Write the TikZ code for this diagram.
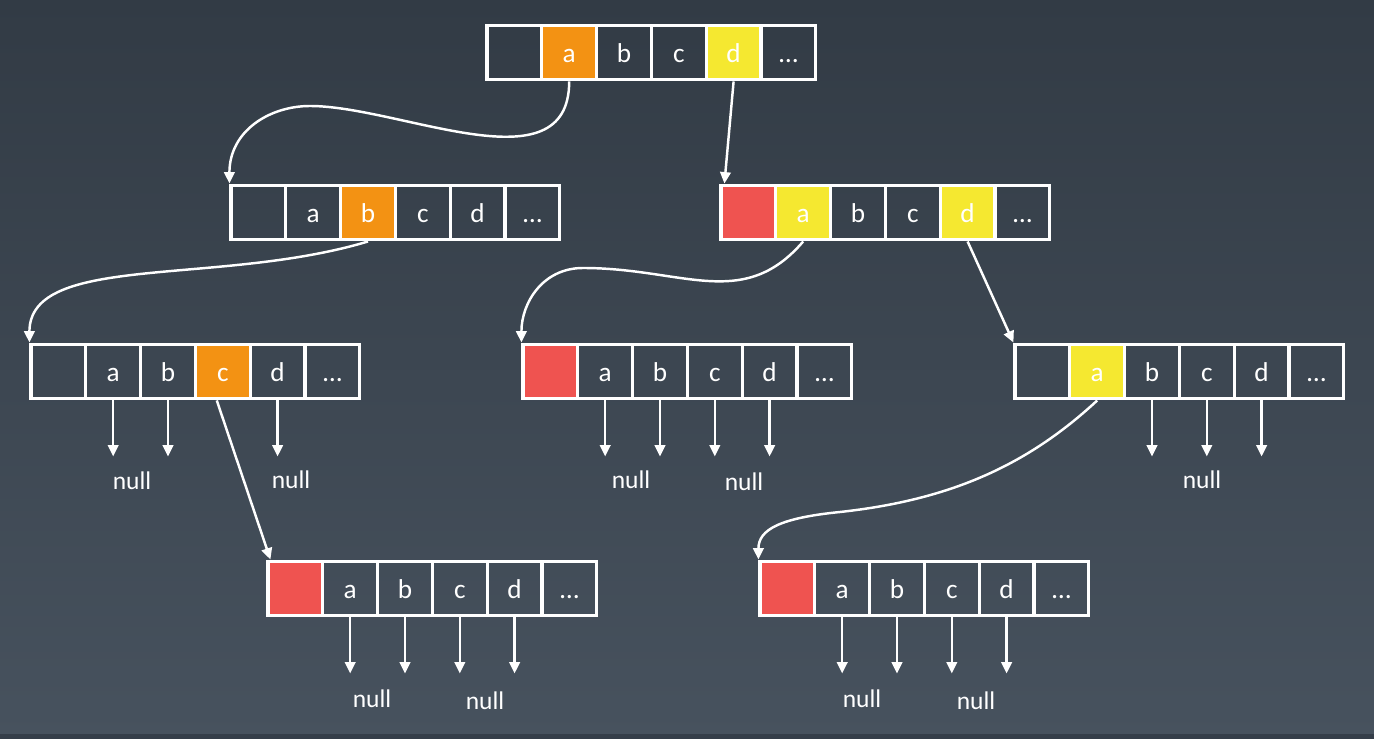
\documentclass[tikz,border=0pt]{standalone}
\usepackage{fontspec}
\setmainfont{Carlito}
\usepackage{xcolor}
\usepackage{tikz}
\usetikzlibrary{arrows.meta}

% one trie node: name, left, top, six cell colours
\newcommand{\trierow}[9]{%
  \foreach \fc/\lab [count=\i from 0] in {#4/{},#5/a,#6/b,#7/c,#8/d,#9/\ldots}
    \node[cell, fill = \fc] (#1\i) at ({#2+54.8*\i+27.4}, {-#3-27.5}) {\lab};
}

\begin{document}
\begin{tikzpicture}[x = 0.02cm, y = 0.02cm,
    cell/.style = {draw = white, line width = 1.8pt, minimum size = 1.096cm,
      inner sep = 0pt, text = white, font = \fontsize{15.5}{17}\selectfont,
      text height = 11.5pt, text depth = 0pt},
    link/.style = {draw = white, line width = 1.4pt,
      -{Triangle[length = 6.5pt, width = 6pt]}},
    nulltext/.style = {text = white, font = \fontsize{14.5}{16}\selectfont}]

  \definecolor{bgTop}{RGB}{50, 59, 69};
  \definecolor{bgBottom}{RGB}{71, 82, 94};
  \definecolor{markOrange}{RGB}{243, 146, 19};
  \definecolor{markYellow}{RGB}{245, 232, 48};
  \definecolor{markRed}{RGB}{239, 83, 80};

  \useasboundingbox (0, 0) rectangle (1374, -739);
  \shade[top color = bgTop, bottom color = bgBottom] (0, 0) rectangle (1374, -739);
  \fill[bgTop!85!bgBottom] (0, -734) rectangle (1374, -739);

  \trierow{root}{487}{25}{none}{markOrange}{none}{none}{markYellow}{none}
  \trierow{lone}{231}{185}{none}{none}{markOrange}{none}{none}{none}
  \trierow{rone}{721}{185}{markRed}{markYellow}{none}{none}{markYellow}{none}
  \trierow{ltwo}{31}{344}{none}{none}{none}{markOrange}{none}{none}
  \trierow{mtwo}{523}{344}{markRed}{none}{none}{none}{none}{none}
  \trierow{rtwo}{1015}{344}{none}{markYellow}{none}{none}{none}{none}
  \trierow{lthree}{268}{561}{markRed}{none}{none}{none}{none}{none}
  \trierow{rthree}{760}{561}{markRed}{none}{none}{none}{none}{none}

  \coordinate (bendA) at (310, -106);
  \coordinate (bendC) at (583, -268);
  \coordinate (bendD) at (840, -512);

  \draw[link] (root1.south) .. controls +(0, -108) and +(90, 0) .. (bendA)
    .. controls +(-40, 0) and +(0, 53) .. (lone0.north west);
  \draw[link] (root4.south) -- ([xshift = 0.1cm]rone0.north west);
  \draw[link] (lone2.south) .. controls +(-150, -45) and +(0, 90) .. (ltwo0.north west);
  \draw[link] (rone1.south) .. controls +(-60, -70) and +(100, 0) .. (bendC)
    .. controls +(-40, 0) and +(0, 40) .. (mtwo0.north west);
  \draw[link] (rone4.south) -- (rtwo0.north west);
  \draw[link] ([xshift = -0.12cm]ltwo3.south) -- ([xshift = 0.08cm]lthree0.north west);
  \draw[link] (rtwo1.south) .. controls +(-70, -65) and +(110, 12) .. (bendD)
    .. controls +(-60, -6) and +(0, 30) .. (rthree0.north west);

  \foreach \c in {ltwo1, ltwo2, ltwo4, mtwo1, mtwo2, mtwo3, mtwo4, rtwo2, rtwo3, rtwo4,
      lthree1, lthree2, lthree3, lthree4, rthree1, rthree2, rthree3, rthree4}
    \draw[link] (\c.south) -- ++(0, -56);

  \node[nulltext] (nullA) at (132, -481) {null};
  \node[nulltext] (nullB) at (291, -480) {null};
  \node[nulltext] (nullC) at (631, -480) {null};
  \node[nulltext] (nullD) at (744, -482) {null};
  \node[nulltext] (nullE) at (1202, -480) {null};
  \node[nulltext] (nullF) at (372, -699) {null};
  \node[nulltext] (nullG) at (485, -701) {null};
  \node[nulltext] (nullH) at (862, -699) {null};
  \node[nulltext] (nullI) at (976, -701) {null};
\end{tikzpicture}
\end{document}
